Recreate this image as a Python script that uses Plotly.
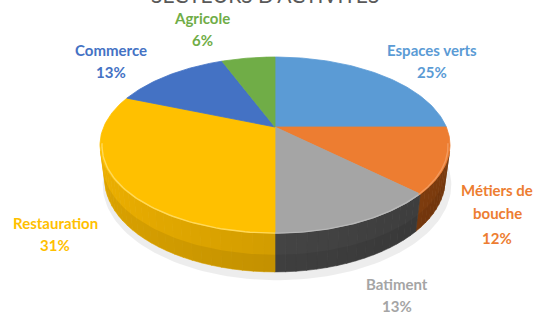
import numpy as np
import plotly.graph_objects as go

# ---- data ----
labels = ["Espaces verts", "Métiers de bouche", "Batiment", "Restauration", "Commerce", "Agricole"]
values = [25, 12, 13, 31, 13, 6]
label_lines = [["Espaces verts", "25%"], ["Métiers de", "bouche", "12%"], ["Batiment", "13%"],
               ["Restauration", "31%"], ["Commerce", "13%"], ["Agricole", "6%"]]
title_text = "SECTEURS D'ACTIVITES"

# ---- styles ----
top_colors = ["#5B9BD5", "#ED7D31", "#A5A5A5", "#FFC000", "#4472C4", "#70AD47"]
side_colors = ["#2E6DA4", "#8A4210", "#444444", "#D29C00", "#2A4F91", "#4A7F2C"]
rim_colors = ["#8FBCE6", "#F29A5E", "#B8B8B8", "#FFD95A", "#7396D8", "#9CCB7A"]
text_colors = ["#5B9BD5", "#ED7D31", "#A5A5A5", "#FFC000", "#4472C4", "#70AD47"]
label_pos = [(432, [50, 72]), (497, [190, 213, 238]), (397, [284, 306]),
             (55, [223, 245]), (111, [50, 72]), (202, [18, 40])]

# ---- projection parameters (screen pixels) ----
CX, CY = 275.0, 127.0
F = 729.0
R = 0.235
D = 1.0
tilt = np.arcsin(0.492)
sa, ca = np.sin(tilt), np.cos(tilt)
H = 0.055


def proj(phi, z, r=R):
    x = r * np.sin(phi)
    y = r * np.cos(phi)
    v = y * sa + z * ca
    w = D + y * ca - z * sa
    return CX + F * x / w, CY - F * v / w


fig = go.Figure()

total = float(sum(values))
bounds = np.concatenate([[0.0], np.cumsum(values) / total * 2 * np.pi])

# soft shadow
ph = np.linspace(0, 2 * np.pi, 200)
sx, sy = proj(ph, -H - 0.004, R * 1.025)
fig.add_trace(go.Scatter(x=sx + 2, y=sy + 2, mode="lines", fill="toself",
                         fillcolor="rgba(0,0,0,0.07)", line=dict(width=0),
                         hoverinfo="skip", showlegend=False))

# visible side range
cmin = -R / (D * ca)
vis_lo = np.arccos(cmin)
vis_hi = 2 * np.pi - vis_lo


def shade(hexc, f):
    hexc = hexc.lstrip("#")
    r, g, b = [int(hexc[i:i + 2], 16) for i in (0, 2, 4)]
    r, g, b = [max(0, min(255, int(round(c * f)))) for c in (r, g, b)]
    return "#%02x%02x%02x" % (r, g, b)


# side walls
for i in range(len(values)):
    a0 = max(bounds[i], vis_lo)
    a1 = min(bounds[i + 1], vis_hi)
    if a1 <= a0:
        continue
    nseg = max(1, int(np.ceil((a1 - a0) / np.radians(3))))
    edges = np.linspace(a0, a1, nseg + 1)
    for j in range(nseg):
        e0, e1 = edges[j], edges[j + 1] + 0.002
        arc = np.linspace(e0, e1, 6)
        tx, ty = proj(arc, 0.0)
        bx, by = proj(arc[::-1], -H)
        mid = 0.5 * (e0 + e1)
        f = 1.0 - 0.13 * np.sin(mid)
        fig.add_trace(go.Scatter(x=np.concatenate([tx, bx, tx[:1]]),
                                 y=np.concatenate([ty, by, ty[:1]]),
                                 mode="lines", fill="toself",
                                 fillcolor=shade(side_colors[i], f),
                                 line=dict(width=0.6, color=shade(side_colors[i], f)),
                                 hoverinfo="skip", showlegend=False))
    # lower darker band
    arc = np.linspace(a0, a1, 60)
    mx, my = proj(arc, -H * 0.55)
    bx, by = proj(arc[::-1], -H)
    fig.add_trace(go.Scatter(x=np.concatenate([mx, bx, mx[:1]]),
                             y=np.concatenate([my, by, my[:1]]),
                             mode="lines", fill="toself",
                             fillcolor="rgba(0,0,0,0.07)", line=dict(width=0),
                             hoverinfo="skip", showlegend=False))

# top face wedges
for i in range(len(values)):
    arc = np.linspace(bounds[i], bounds[i + 1], 80)
    ax, ay = proj(arc, 0.0)
    xs = np.concatenate([[CX], ax, [CX]])
    ys = np.concatenate([[CY], ay, [CY]])
    fig.add_trace(go.Scatter(x=xs, y=ys, mode="lines", fill="toself",
                             fillcolor=top_colors[i],
                             line=dict(width=0.8, color=top_colors[i]),
                             name=labels[i], hoverinfo="name", showlegend=False))

# rim highlight on the front part
for i in range(len(values)):
    a0 = max(bounds[i], vis_lo - 0.1)
    a1 = min(bounds[i + 1], vis_hi + 0.1)
    if a1 <= a0:
        continue
    arc = np.linspace(a0, a1, 60)
    rx, ry = proj(arc, -0.002, R * 0.99)
    fig.add_trace(go.Scatter(x=rx, y=ry, mode="lines",
                             line=dict(width=1.4, color=rim_colors[i]),
                             hoverinfo="skip", showlegend=False))

# labels
annotations = []
for i in range(len(values)):
    lx, lys = label_pos[i]
    for txt, ly in zip(label_lines[i], lys):
        annotations.append(dict(x=lx, y=ly, xref="x", yref="y", text="<b>%s</b>" % txt,
                                showarrow=False, xanchor="center", yanchor="middle",
                                font=dict(family="Lato", size=15, color=text_colors[i])))

annotations.append(dict(x=265, y=9, xref="x", yref="y", text=title_text, showarrow=False,
                        xanchor="center", yanchor="bottom",
                        font=dict(family="Lato", size=21, color="#595959")))

fig.update_layout(
    width=539, height=313, margin=dict(l=0, r=0, t=0, b=0),
    paper_bgcolor="white", plot_bgcolor="white",
    xaxis=dict(range=[0, 539], visible=False, fixedrange=True),
    yaxis=dict(range=[313, 0], visible=False, fixedrange=True),
    annotations=annotations, showlegend=False,
)

fig.write_html("out.html", config={"displayModeBar": False},
               post_script="document.body.style.margin='0px';")
